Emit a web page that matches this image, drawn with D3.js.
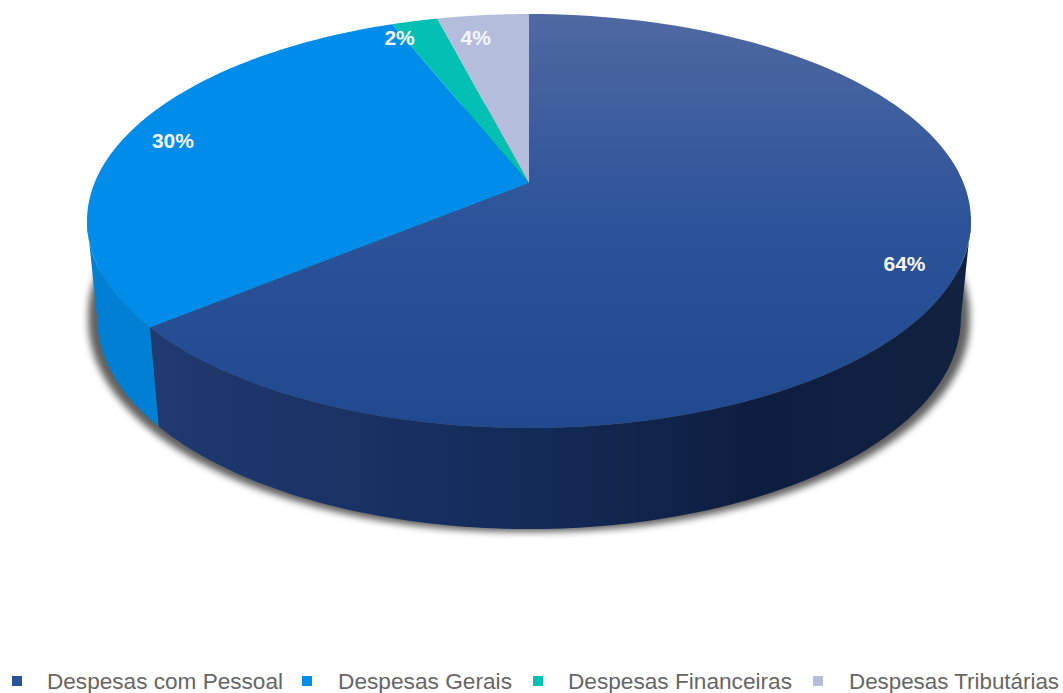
<!DOCTYPE html>
<html>
<head>
<meta charset="utf-8">
<script src="https://cdn.jsdelivr.net/npm/d3@7/dist/d3.min.js"></script>
<style>
html,body{margin:0;padding:0;background:#fff;overflow:hidden}
svg{display:block}
text{font-family:"Liberation Sans",Arial,sans-serif}
</style>
</head>
<body>
<svg id="chart" width="1063" height="693"></svg>
<script>
// Expense shares, in percent
const categories = ["Despesas com Pessoal", "Despesas Gerais", "Despesas Financeiras", "Despesas Tributárias"];
const values = [64, 30, 2, 4];
const sliceColors = ["#2a5298", "#008ce9", "#00bfb3", "#b5bddc"];
const sideColors = ["url(#sideDark)", "#0080d4", "#00a89e", "#9fa6c2"];
// Small labels are nudged apart so that they do not crowd each other
const labelShiftX = [4, 0, -27, -12];
const labelShiftY = [0, 0, 0, 5];
const legendMarkerX = [12, 302, 533, 813];
const legendTextX = [47, 338, 568, 849];
const legendTextWidth = [236, 174, 224, 210];

const svg = d3.select("#chart");
const defs = svg.append("defs");

function gradient(id, attrs, stops) {
  const g = defs.append("linearGradient").attr("id", id).attr("gradientUnits", "userSpaceOnUse");
  Object.entries(attrs).forEach(([k, v]) => g.attr(k, v));
  stops.forEach(([o, c]) => g.append("stop").attr("offset", o).attr("stop-color", c));
}
gradient("topDark", {x1: 0, x2: 0, y1: 14, y2: 428},
  [[0, "#4f69a2"], [0.5, "#2c5399"], [1, "#214990"]]);
gradient("sideDark", {x1: 150, x2: 970, y1: 0, y2: 0},
  [[0, "#203a72"], [0.46, "#142b58"], [0.73, "#0e1e40"], [1, "#11213f"]]);

const shadow = defs.append("filter").attr("id", "rimShadow")
  .attr("x", "-5%").attr("y", "-5%").attr("width", "110%").attr("height", "110%");
shadow.append("feMorphology").attr("in", "SourceAlpha").attr("operator", "dilate").attr("radius", "9 3").attr("result", "grown");
shadow.append("feGaussianBlur").attr("in", "grown").attr("stdDeviation", 3.5).attr("result", "soft");
shadow.append("feFlood").attr("flood-color", "#000").attr("flood-opacity", 0.62);
shadow.append("feComposite").attr("in2", "soft").attr("operator", "in");

// Perspective projection of the disc: r in [0,1], angle clockwise from the top
const cx = 529, cy = 183, spanX = 434.5, spanY = 166.4, tilt = -0.1836;
function project(angle, r) {
  const t = -Math.cos(angle) * r;
  const w = 1 + tilt * t;
  return [cx + spanX * Math.sin(angle) * r / w, (cy + spanY * t) / w];
}
// The lower rim sits below the upper one and narrows slightly
const lower = ([x, y]) => [cx + (x - cx) * 0.977, y * 1.02 + 92.5];

const pie = d3.pie().value(d => d).sort(null);
const slices = pie(values);
const line = d3.line();
const rim = (a0, a1) => d3.range(0, 121).map(i => project(a0 + (a1 - a0) * i / 120, 1));

// The wall is only seen between the two widest points of the disc
const wallStart = Math.acos(tilt);
const wallEnd = 2 * Math.PI - wallStart;

// Soft shadow cast by the base of the wall
svg.append("path")
  .attr("d", line(rim(0, 2 * Math.PI).map(lower)) + "Z")
  .attr("fill", "#000")
  .attr("filter", "url(#rimShadow)");

// Side wall, drawn before the disc so the disc overlaps its upper edge
svg.append("g")
  .selectAll("path")
  .data(slices.filter(s => s.endAngle > wallStart && s.startAngle < wallEnd))
  .join("path")
  .attr("d", s => {
    const upper = rim(Math.max(s.startAngle, wallStart), Math.min(s.endAngle, wallEnd));
    return line(upper.concat(upper.map(lower).reverse())) + "Z";
  })
  .attr("fill", s => sideColors[s.index]);

// Disc surface
svg.append("g").selectAll("path").data(slices).join("path")
  .attr("d", s => line([[cx, cy]].concat(rim(s.startAngle, s.endAngle))) + "Z")
  .attr("fill", (s, i) => i === 0 ? "url(#topDark)" : sliceColors[i]);

// Percentage labels
svg.append("g").selectAll("text").data(slices).join("text")
  .attr("x", (s, i) => project((s.startAngle + s.endAngle) / 2, 0.88)[0] + labelShiftX[i])
  .attr("y", (s, i) => project((s.startAngle + s.endAngle) / 2, 0.88)[1] + labelShiftY[i])
  .attr("dy", "0.35em")
  .attr("text-anchor", "middle")
  .attr("font-size", 21)
  .attr("font-weight", "bold")
  .attr("fill", "#f4f6fb")
  .text(s => s.value + "%");

// Legend row
const legend = svg.append("g").selectAll("g").data(categories).join("g");
legend.append("rect")
  .attr("x", (d, i) => legendMarkerX[i]).attr("y", 676)
  .attr("width", 10).attr("height", 10)
  .attr("fill", (d, i) => i === 0 ? "#2a5298" : sliceColors[i]);
legend.append("text")
  .attr("x", (d, i) => legendTextX[i]).attr("y", 681)
  .attr("dy", "0.35em")
  .attr("font-size", 22)
  .attr("textLength", (d, i) => legendTextWidth[i])
  .attr("lengthAdjust", "spacingAndGlyphs")
  .attr("fill", "#666")
  .text(d => d);
</script>
</body>
</html>
